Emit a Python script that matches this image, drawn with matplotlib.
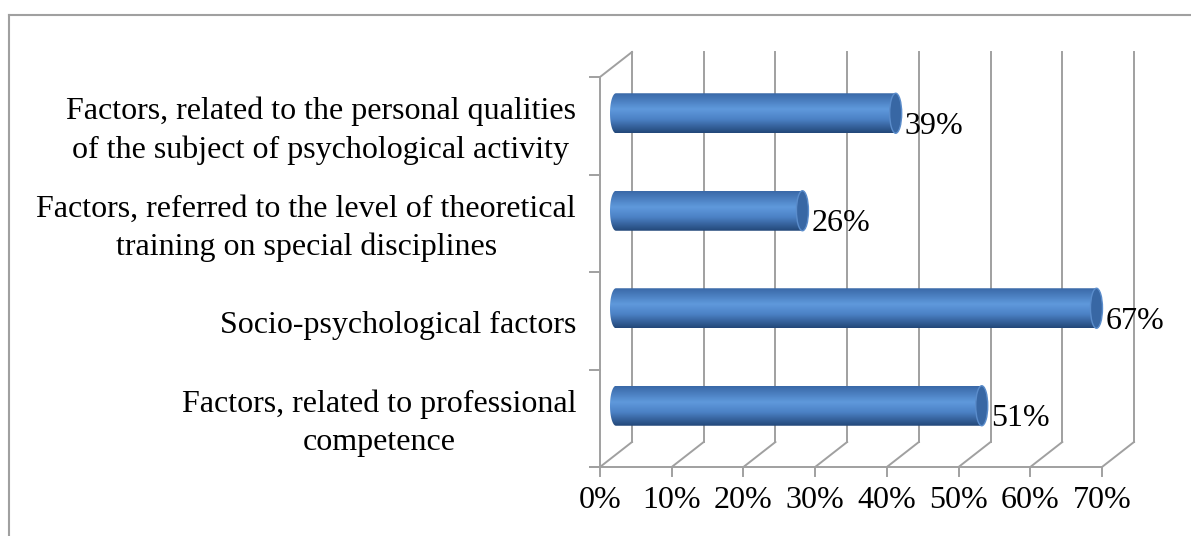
import matplotlib
matplotlib.use('Agg')
import matplotlib.pyplot as plt
import numpy as np
from matplotlib.patches import Ellipse, PathPatch
from matplotlib.path import Path
from matplotlib.colors import LinearSegmentedColormap
from matplotlib.lines import Line2D

categories = ['Factors, related to professional\ncompetence',
              'Socio-psychological factors',
              'Factors, referred to the level of theoretical\ntraining on special disciplines',
              'Factors, related to the personal qualities\nof the subject of psychological activity']
values = [51, 67, 26, 39]
xticks = [0, 10, 20, 30, 40, 50, 60, 70]

W, H = 1191, 536
fig = plt.figure(figsize=(W / 100, H / 100), dpi=100)
ax = fig.add_axes([0, 0, 1, 1])
ax.axis('off')

# pixel layout of the back wall
px_pct = 502 / 70      # pixels per percent
px_cat = 97.5          # pixels per category
x0_px, y0_px = 632, 442
ax.set_xlim(-x0_px / px_pct, (W - x0_px) / px_pct)
ax.set_ylim((y0_px - H) / px_cat, y0_px / px_cat)

# depth offset (back -> front) in data units
DX = -32 / px_pct
DY = -25 / px_cat
ncat = len(categories)
grid = '#A0A0A0'
lw = 1.4
fs = 23
font = 'Liberation Serif'

# back wall gridlines and floor diagonals
for v in xticks:
    ax.plot([v, v], [0, ncat], color=grid, lw=lw, zorder=1)
    ax.plot([v, v + DX], [0, DY], color=grid, lw=lw, zorder=1)
    ax.plot([v + DX, v + DX], [DY, DY - 9 / px_cat], color=grid, lw=lw, zorder=1)
    ax.text(v + DX, DY - 33 / px_cat, f'{v}%', ha='center', va='center',
            fontsize=fs, family=font, color='black')

# floor front edge and left wall
ax.plot([DX - 10 / px_pct, xticks[-1] + DX], [DY, DY], color=grid, lw=lw, zorder=1)
ax.plot([DX, DX], [DY, ncat + DY], color=grid, lw=lw, zorder=1)
ax.plot([DX, 0], [ncat + DY, ncat], color=grid, lw=lw, zorder=1)
for c in range(ncat + 1):
    ax.plot([DX - 10 / px_pct, DX], [c + DY, c + DY], color=grid, lw=lw, zorder=1)

# cylinder bars
cmap = LinearSegmentedColormap.from_list('cyl', [
    (0.0, '#3A69A8'), (0.4, '#5F99DC'), (0.65, '#4C82C6'), (1.0, '#234879')])
grad = cmap(np.linspace(0, 1, 64))[:, None, :]
a = 6 / px_pct
h = 20 / px_cat
for c, (lab, v) in enumerate(zip(categories, values)):
    yc = c + 0.5 + DY / 2
    xs = DX / 2
    xe = v + DX / 2
    t = np.linspace(-np.pi / 2, np.pi / 2, 40)
    arc = np.column_stack([xs - a * np.cos(t), yc + h * np.sin(t)])
    verts = np.vstack([[[xe, yc + h], [xe, yc - h]], arc, [[xe, yc + h]]])
    codes = [Path.MOVETO] + [Path.LINETO] * (len(verts) - 2) + [Path.CLOSEPOLY]
    patch = PathPatch(Path(verts, codes), transform=ax.transData,
                      facecolor='none', edgecolor='none')
    ax.add_patch(patch)
    im = ax.imshow(grad, extent=(xs - a, xe + a, yc - h, yc + h), origin='upper',
                   aspect='auto', interpolation='bilinear', zorder=2)
    im.set_clip_path(patch)
    ax.add_patch(Ellipse((xe, yc), 2 * a, 2 * h, facecolor='#3867A4',
                         edgecolor='#5A8CCB', lw=1, zorder=3))
    ax.text(xe + a + 3 / px_pct, yc - 13 / px_cat, f'{v}%', ha='left', va='center',
            fontsize=fs, family=font, color='black', zorder=4)
    ax.text(DX - 24 / px_pct, c + 0.5 + DY - 5 / px_cat, lab, ha='right', va='center',
            multialignment='center', linespacing=1.4,
            fontsize=fs, family=font, color='black')

ax.set_xlim(-x0_px / px_pct, (W - x0_px) / px_pct)
ax.set_ylim((y0_px - H) / px_cat, y0_px / px_cat)

# outer frame (top and left edges visible)
fig.add_artist(Line2D([9 / W, 1], [1 - 15 / H, 1 - 15 / H], color='#A0A0A0', lw=1.5))
fig.add_artist(Line2D([9 / W, 9 / W], [0, 1 - 15 / H], color='#A0A0A0', lw=1.5))

fig.savefig('out.png', dpi=100, facecolor='white')
